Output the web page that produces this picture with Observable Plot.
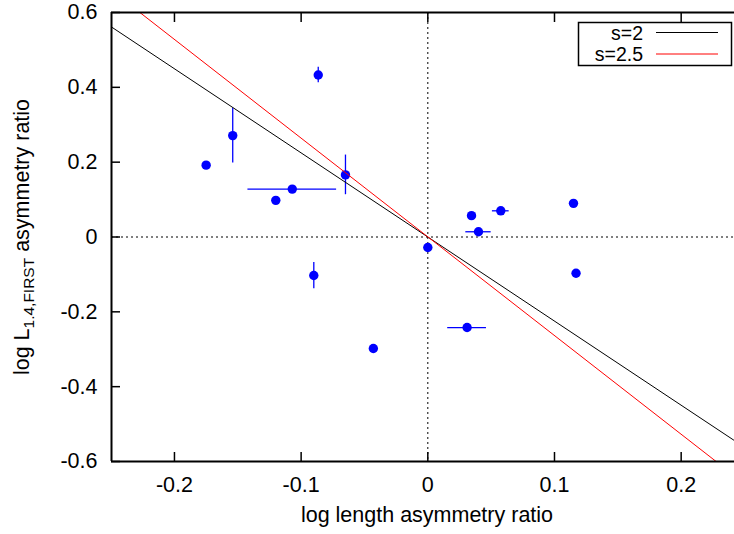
<!DOCTYPE html>
<html>
<head>
<meta charset="utf-8">
<script src="https://cdn.jsdelivr.net/npm/d3@7"></script>
<script src="https://cdn.jsdelivr.net/npm/@observablehq/plot@0.6"></script>
<style>
  html, body { margin: 0; padding: 0; background: #fff; }
  #chart { width: 734px; height: 534px; }
  svg { font-family: "Liberation Sans", Arial, Helvetica, sans-serif; }
</style>
</head>
<body>
<div id="chart"></div>
<script>
// ---- data ----
const xVals = [-0.175, -0.154, -0.0865, -0.065, -0.107, -0.120, -0.090, -0.043, 0.000, 0.0345, 0.040, 0.0576, 0.115, 0.117, 0.031];
const yVals = [0.192, 0.271, 0.433, 0.166, 0.128, 0.098, -0.103, -0.298, -0.028, 0.057, 0.014, 0.070, 0.090, -0.097, -0.242];
const xErrs = [0, 0, 0, 0, 0.035, 0, 0, 0, 0, 0, 0.010, 0.0066, 0, 0, 0.0153];
const yErrs = [0, 0.073, 0.021, 0.053, 0, 0, 0.035, 0, 0, 0, 0, 0, 0, 0, 0];

// model lines (endpoints)
const lineS2x = [-0.25, 0.242];
const lineS2y = [0.562, -0.544];
const lineS25x = [-0.2273, 0.2276];
const lineS25y = [0.6, -0.6];

const legendLabels = ["s=2", "s=2.5"];
const legendColors = ["#000000", "#ff0000"];

const xTicks = [-0.2, -0.1, 0, 0.1, 0.2];
const yTicks = [-0.6, -0.4, -0.2, 0, 0.2, 0.4, 0.6];
const xLabel = "log length asymmetry ratio";

// ---- build tables ----
const pts = xVals.map((x, i) => ({x, y: yVals[i], ex: xErrs[i], ey: yErrs[i]}));
const xErrPts = pts.filter(d => d.ex > 0);
const yErrPts = pts.filter(d => d.ey > 0);
const s2 = lineS2x.map((x, i) => ({x, y: lineS2y[i]}));
const s25 = lineS25x.map((x, i) => ({x, y: lineS25y[i]}));

const fmt = d => (d === 0 ? "0" : String(d));
const FS = 21.5;
const LFS = 19.5;

const plot = Plot.plot({
  width: 734,
  height: 534,
  marginLeft: 111,
  marginRight: 0,
  marginTop: 12,
  marginBottom: 73,
  style: {background: "#fff", color: "#000", fontSize: FS + "px", fontFamily: '"Liberation Sans", Arial, Helvetica, sans-serif'},
  x: {domain: [-0.2497, 0.2421]},
  y: {domain: [-0.6, 0.6]},
  marks: [
    // zero lines
    Plot.ruleX([0], {stroke: "#000", strokeWidth: 1, strokeDasharray: "2,3"}),
    Plot.ruleY([0], {stroke: "#000", strokeWidth: 1, strokeDasharray: "2,3"}),
    // error bars
    Plot.ruleX(yErrPts, {x: "x", y1: d => d.y - d.ey, y2: d => d.y + d.ey, stroke: "#0000ff", strokeWidth: 1.3}),
    Plot.ruleY(xErrPts, {y: "y", x1: d => d.x - d.ex, x2: d => d.x + d.ex, stroke: "#0000ff", strokeWidth: 1.3}),
    // points
    Plot.dot(pts, {x: "x", y: "y", r: 4.7, fill: "#0000ff", stroke: "none"}),
    // model lines
    Plot.line(s2, {x: "x", y: "y", stroke: legendColors[0], strokeWidth: 1, clip: true}),
    Plot.line(s25, {x: "x", y: "y", stroke: legendColors[1], strokeWidth: 1, clip: true}),
    // tick labels
    Plot.axisX({ticks: xTicks, anchor: "bottom", tickSize: 0, tickPadding: 15, tickFormat: fmt, label: null, fontSize: FS}),
    Plot.axisY({ticks: yTicks, anchor: "left", tickSize: 0, tickPadding: 14, tickFormat: fmt, label: null, fontSize: FS}),
    // inward tick marks
    Plot.axisX({ticks: xTicks, anchor: "bottom", tickSize: 9, dy: -9, tickFormat: () => "", label: null, strokeWidth: 1.5}),
    Plot.axisX({ticks: xTicks, anchor: "top", tickSize: 9, dy: 9, tickFormat: () => "", label: null, strokeWidth: 1.5}),
    Plot.axisY({ticks: yTicks, anchor: "left", tickSize: 9, dx: 9, tickFormat: () => "", label: null, strokeWidth: 1.5}),
    // frame (left, top, bottom; right side cut off)
    Plot.ruleX([-0.2497], {stroke: "#000", strokeWidth: 2}),
    Plot.ruleY([-0.6, 0.6], {stroke: "#000", strokeWidth: 2})
  ]
});

document.getElementById("chart").appendChild(plot);

const svg = d3.select(plot);

// x axis title
svg.append("text")
  .attr("x", 427)
  .attr("y", 522)
  .attr("text-anchor", "middle")
  .attr("font-size", FS)
  .attr("fill", "#000")
  .text(xLabel);

// y axis title with subscript
const yt = svg.append("text")
  .attr("transform", "translate(29,237) rotate(-90)")
  .attr("text-anchor", "middle")
  .attr("font-size", FS)
  .attr("fill", "#000");
yt.append("tspan").text("log L");
yt.append("tspan").attr("dy", 5).attr("font-size", 15.5).text("1.4,FIRST");
yt.append("tspan").attr("dy", -5).text(" asymmetry ratio");

// legend
const lg = svg.append("g");
lg.append("rect")
  .attr("x", 578.5).attr("y", 22.5)
  .attr("width", 153).attr("height", 43)
  .attr("fill", "#fff").attr("stroke", "#000").attr("stroke-width", 1.5);
legendLabels.forEach((lab, i) => {
  const cy = 32.5 + i * 21.5;
  lg.append("text")
    .attr("x", 643).attr("y", cy + 7)
    .attr("text-anchor", "end")
    .attr("font-size", LFS)
    .attr("fill", "#000")
    .text(lab);
  lg.append("line")
    .attr("x1", 656).attr("x2", 718)
    .attr("y1", cy).attr("y2", cy)
    .attr("stroke", legendColors[i]).attr("stroke-width", 1);
});
</script>
</body>
</html>
